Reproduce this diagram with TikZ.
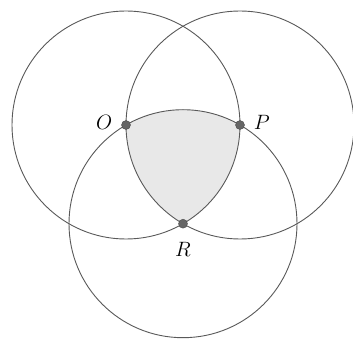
\documentclass[tikz,border=0pt]{standalone}
\usepackage{amsmath}
\usepackage{tikz}
\usetikzlibrary{positioning}

\begin{document}
\begin{tikzpicture}[
    x=1pt, y=1pt,
    node distance=8pt and 8pt,
    ring/.style={draw=black!65, line width=0.9pt},
    lens/.style={fill=black!9},
    dot/.style={circle, fill=black!60, draw=black!70, inner sep=0pt, minimum size=9pt},
    lbl/.style={font=\fontsize{21}{24}\selectfont, inner sep=1pt}
]
    \useasboundingbox (0,0) rectangle (353,348);
    % centres of the three circles
    \coordinate (cO) at (126,223);
    \coordinate (cP) at (240,223);
    \coordinate (cR) at (183,124.3);

    % shaded Reuleaux triangle
    \fill[lens] (cO) arc[start angle=120, end angle=60, radius=114pt]
                     arc[start angle=0, end angle=-60, radius=114pt]
                     arc[start angle=240, end angle=180, radius=114pt] -- cycle;

    \draw[ring] (cO) circle[radius=114pt];
    \draw[ring] (cP) circle[radius=114pt];
    \draw[ring] (cR) circle[radius=114pt];

    \node[dot] (O) at (cO) {};
    \node[dot] (P) at (cP) {};
    \node[dot] (R) at (cR) {};

    \node[lbl, left=of O, yshift=3pt] (lO) {$O$};
    \node[lbl, right=of P, yshift=3pt] (lP) {$P$};
    \node[lbl, below=of R, yshift=-5pt] (lR) {$R$};
\end{tikzpicture}
\end{document}
